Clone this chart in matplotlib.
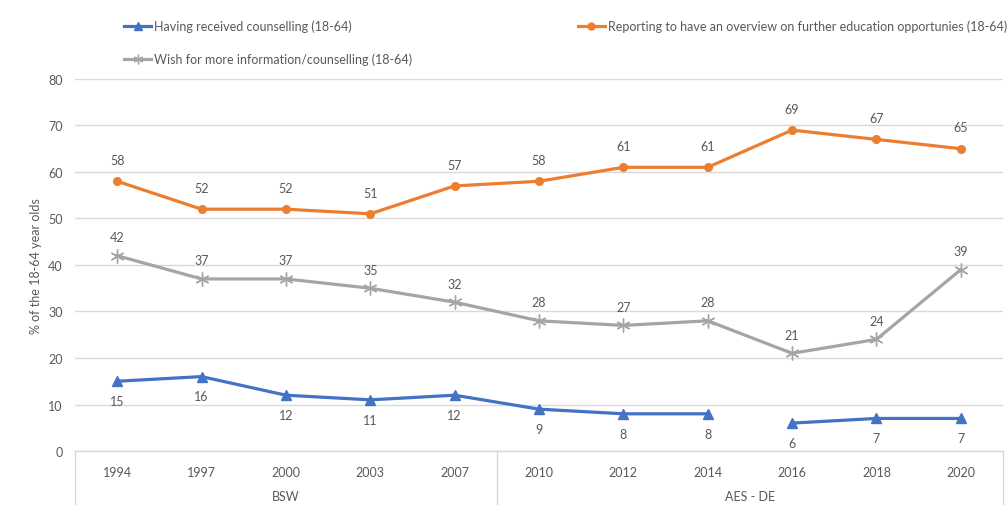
import numpy as np
import matplotlib.pyplot as plt
from matplotlib.lines import Line2D

plt.rcParams['font.family'] = ['Lato', 'DejaVu Sans']

years = ['1994', '1997', '2000', '2003', '2007', '2010', '2012', '2014', '2016', '2018', '2020']
groups = ['BSW', 'AES - DE']
group_sizes = [5, 6]

counselling = [15, 16, 12, 11, 12, 9, 8, 8, 6, 7, 7]
overview = [58, 52, 52, 51, 57, 58, 61, 61, 69, 67, 65]
wish_info = [42, 37, 37, 35, 32, 28, 27, 28, 21, 24, 39]

# the counselling series is broken between the two survey designs 2014 / 2016
counselling_break = 8

BLUE = '#4472C4'
ORANGE = '#ED7D31'
GREY = '#A5A5A5'
TEXT = '#595959'
GRID = '#D9D9D9'

fig = plt.figure(figsize=(10.08, 5.06), dpi=100)
ax = fig.add_axes([0.0744, 0.1067, 0.9206, 0.7353])

x = np.arange(len(years))

ax.plot(x, overview, color=ORANGE, lw=2.3, marker='o', ms=5.5, zorder=3)
ax.plot(x, wish_info, color=GREY, lw=2.3, marker=(6, 2, 0), ms=10, mew=1.0, zorder=3)
ax.plot(x[:counselling_break], counselling[:counselling_break], color=BLUE, lw=2.3,
        marker='^', ms=7.5, zorder=3)
ax.plot(x[counselling_break:], counselling[counselling_break:], color=BLUE, lw=2.3,
        marker='^', ms=7.5, zorder=3)

for xi, v in zip(x, overview):
    ax.annotate(str(v), (xi, v), xytext=(0, 11), textcoords='offset points',
                ha='center', va='bottom', fontsize=9, color=TEXT)
for xi, v in zip(x, wish_info):
    ax.annotate(str(v), (xi, v), xytext=(0, 9), textcoords='offset points',
                ha='center', va='bottom', fontsize=9, color=TEXT)
for xi, v in zip(x, counselling):
    ax.annotate(str(v), (xi, v), xytext=(0, -10), textcoords='offset points',
                ha='center', va='top', fontsize=9, color=TEXT)

ax.set_xlim(-0.5, len(years) - 0.5)
ax.set_ylim(0, 80)
ax.set_yticks(range(0, 81, 10))
ax.yaxis.grid(True, color=GRID, lw=1)
ax.set_axisbelow(True)
for side in ['top', 'right', 'left']:
    ax.spines[side].set_visible(False)
ax.spines['bottom'].set_color(GRID)
ax.spines['bottom'].set_linewidth(1)
ax.tick_params(axis='y', length=0, pad=9, labelsize=9, labelcolor=TEXT)
ax.tick_params(axis='x', length=0, pad=11, labelsize=9, labelcolor=TEXT)
ax.set_xticks(x)
ax.set_xticklabels(years)
ax.set_ylabel('% of the 18-64 year olds', fontsize=9, color=TEXT, labelpad=4)

# grouped category axis below the years
trans = ax.get_xaxis_transform()
edges = np.concatenate([[0], np.cumsum(group_sizes)]) - 0.5
for e in edges:
    ax.add_line(Line2D([e, e], [0, -0.2], transform=trans, color=GRID, lw=1, clip_on=False))
for name, lo, hi in zip(groups, edges[:-1], edges[1:]):
    ax.text((lo + hi) / 2, -0.121, name, transform=trans, ha='center', va='center',
            fontsize=9, color=TEXT)

# legend entries laid out in two rows
def legend_entry(x0, y0, color, marker, ms, label):
    h = Line2D([], [], color=color, lw=2.3, marker=marker, ms=ms)
    fig.legend(handles=[h], labels=[label], loc='center left', bbox_to_anchor=(x0, y0),
               frameon=False, fontsize=9, labelcolor=TEXT, handlelength=2.2,
               handletextpad=0.2, borderpad=0, borderaxespad=0)

legend_entry(0.123, 0.947, BLUE, '^', 6, 'Having received counselling (18-64)')
legend_entry(0.573, 0.947, ORANGE, 'o', 5, 'Reporting to have an overview on further education opportunies (18-64)')
legend_entry(0.123, 0.881, GREY, (6, 2, 0), 7, 'Wish for more information/counselling (18-64)')

fig.savefig('out.png', dpi=100)
